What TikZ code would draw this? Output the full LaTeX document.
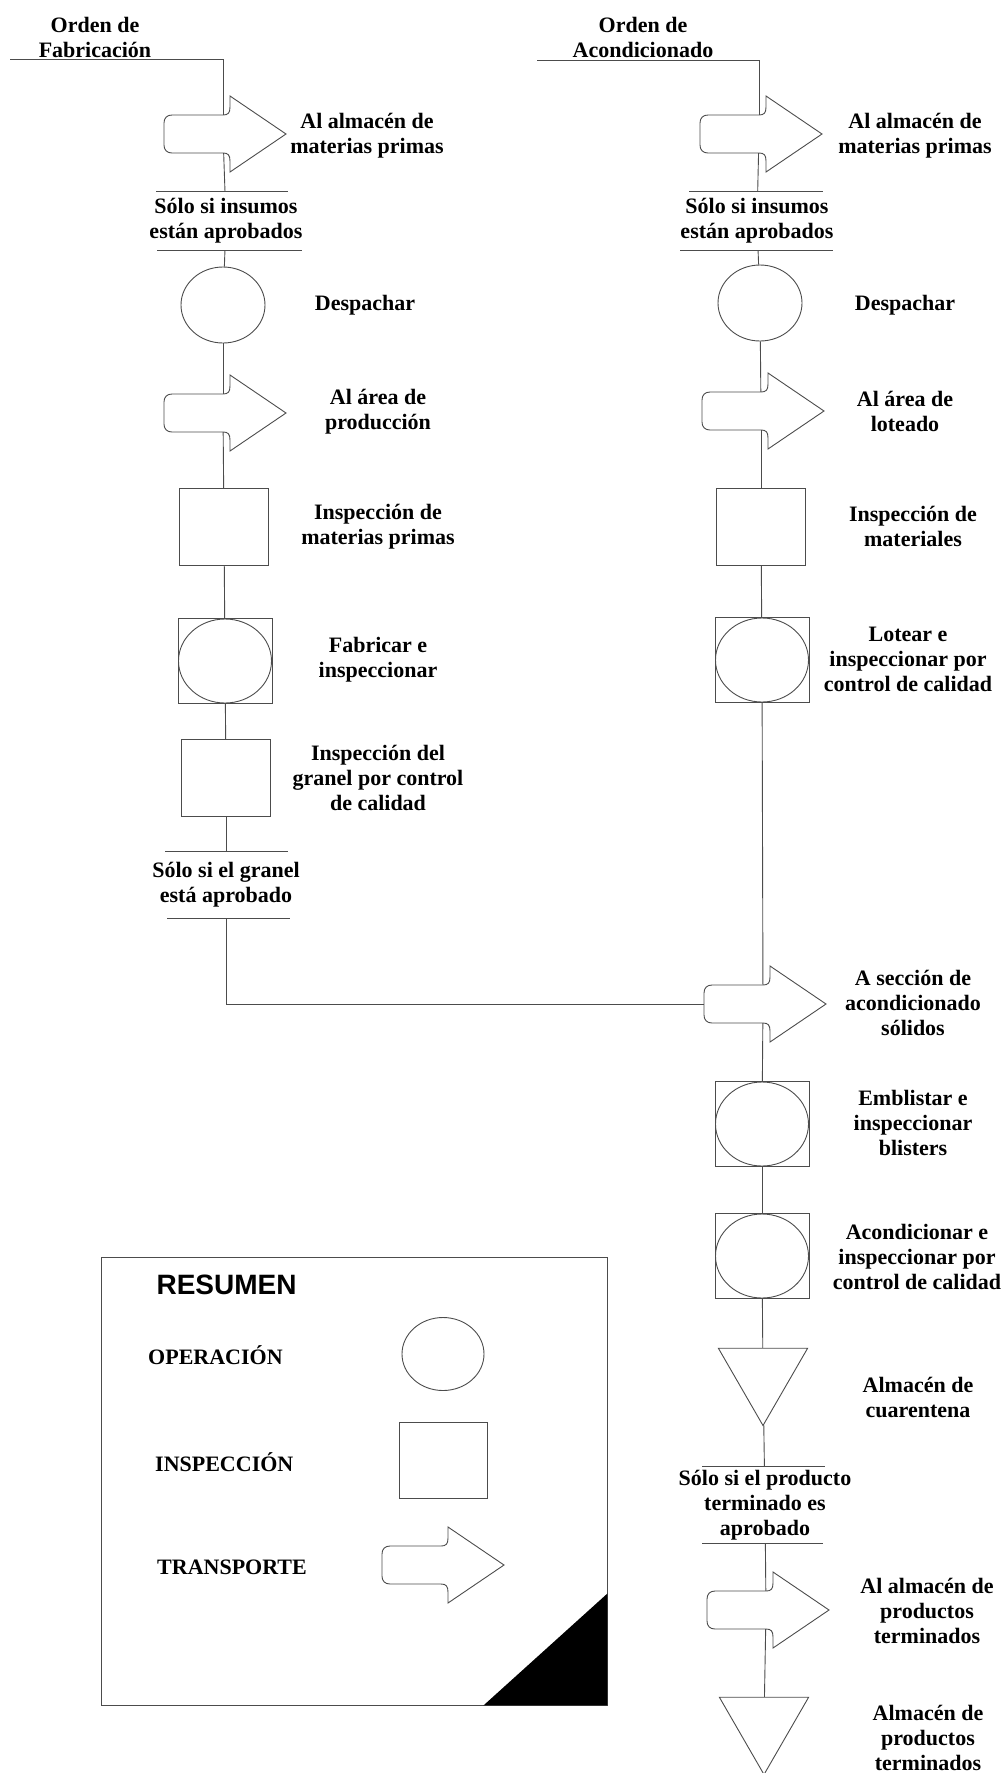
\documentclass[tikz,border=0pt]{standalone}
\usepackage{fontspec}
\setmainfont{Liberation Serif}
\setsansfont{Liberation Sans}
\usetikzlibrary{shapes.geometric}

\tikzset{
  linea/.style={draw=black!70, line width=0.9pt},
  texto/.style={font=\fontsize{22}{25}\selectfont\bfseries, align=center, inner sep=0pt},
  operacion/.style={linea, ellipse, minimum width=84pt, minimum height=76pt, inner sep=0pt},
  inspeccion/.style={linea, rectangle, minimum width=89pt, minimum height=77pt, inner sep=0pt},
  combinada/.style={linea, rectangle, minimum width=94pt, minimum height=85pt, inner sep=0pt,
    path picture={\draw[black!70, line width=0.9pt] (path picture bounding box.center) ellipse [x radius=46.5pt, y radius=42pt];}},
  almacen/.style={linea, regular polygon, regular polygon sides=3, shape border rotate=180, minimum size=103pt, inner sep=0pt},
  cuerpo/.style={rectangle, minimum width=118pt, minimum height=38pt, inner sep=0pt},
}

\newcommand{\transporte}[2]{%
  \node (#1) at (#2) [cuerpo] {};
  \draw[linea, shift={(#1.center)}] (63,0) -- (7,-38) -- (7,-27) .. controls (7,-21) and (5,-19) .. (0,-19)
    -- (-51,-19) .. controls (-56,-19) and (-59,-16) .. (-59,-11)
    -- (-59,11) .. controls (-59,16) and (-56,19) .. (-51,19)
    -- (0,19) .. controls (5,19) and (7,21) .. (7,27) -- (7,38) -- cycle;
}

\begin{document}
\begin{tikzpicture}[x=1pt, y=-1pt]
  \useasboundingbox (0,0) rectangle (1008,1773);

  \node (orden1) at (95,37) [texto] {Orden de\\Fabricación};
  \coordinate (ini1) at (10,59);
  \transporte{t1}{223,134}
  \node (c1) at (226,221) [texto, minimum height=58pt] {Sólo si insumos\\están aprobados};
  \node (op1) at (223,305) [operacion] {};
  \transporte{t2}{223,413}
  \node (in1) at (224,527) [inspeccion] {};
  \node (oi1) at (225,661) [combinada] {};
  \node (in2) at (226,778) [inspeccion] {};
  \node (c2) at (226,885) [texto, minimum height=66pt] {Sólo si el granel\\está aprobado};

  \node (l1) at (367,136) [texto] {Al almacén de\\materias primas};
  \node (l2) at (365,305) [texto] {Despachar};
  \node (l3) at (378,412) [texto] {Al área de\\producción};
  \node (l4) at (378,527) [texto] {Inspección de\\materias primas};
  \node (l5) at (378,660) [texto] {Fabricar e\\inspeccionar};
  \node (l6) at (378,778) [texto] {Inspección del\\granel por control\\de calidad};

  \node (orden2) at (643,37) [texto] {Orden de\\Acondicionado};
  \coordinate (ini2) at (537,60);
  \transporte{t3}{759,134}
  \node (c4) at (757,221) [texto, minimum height=58pt] {Sólo si insumos\\están aprobados};
  \node (op2) at (760,303) [operacion] {};
  \transporte{t4}{761,411}
  \node (in3) at (761,527) [inspeccion] {};
  \node (oi2) at (762,660) [combinada] {};
  \transporte{t5}{763,1004}
  \node (oi3) at (762,1124) [combinada] {};
  \node (oi4) at (762,1256) [combinada] {};
  \node (al1) at (763,1374) [almacen] {};
  \node (c5) at (765,1505) [texto, minimum height=77pt] {Sólo si el producto\\terminado es\\aprobado};
  \transporte{t6}{766,1610}
  \node (al2) at (764,1723) [almacen] {};

  \node (r1) at (915,136) [texto] {Al almacén de\\materias primas};
  \node (r2) at (905,305) [texto] {Despachar};
  \node (r3) at (905,411) [texto] {Al área de\\loteado};
  \node (r4) at (913,526) [texto] {Inspección de\\materiales};
  \node (r5) at (908,659) [texto] {Lotear e\\inspeccionar por\\control de calidad};
  \node (r6) at (913,1003) [texto] {A sección de\\acondicionado\\sólidos};
  \node (r7) at (913,1123) [texto] {Emblistar e\\inspeccionar\\blisters};
  \node (r8) at (917,1257) [texto] {Acondicionar e\\inspeccionar por\\control de calidad};
  \node (r9) at (918,1397) [texto] {Almacén de\\cuarentena};
  \node (r10) at (927,1611) [texto] {Al almacén de\\productos\\terminados};
  \node (r11) at (928,1738) [texto] {Almacén de\\productos\\terminados};

  \draw[linea] (ini1) -| (t1);
  \draw[linea] (t1) to (c1);
  \draw[linea] (c1) to (op1);
  \draw[linea] (op1) to (t2);
  \draw[linea] (t2) to (in1);
  \draw[linea] (in1) to (oi1);
  \draw[linea] (oi1) to (in2);
  \draw[linea] (in2) to (c2);
  \draw[linea] (c2) |- (t5);
  \draw[linea] ([xshift=-70pt]c1.north) -- ([xshift=62pt]c1.north);
  \draw[linea] ([xshift=-69pt]c1.south) -- ([xshift=76pt]c1.south);
  \draw[linea] ([xshift=-61pt]c2.north) -- ([xshift=62pt]c2.north);
  \draw[linea] ([xshift=-59pt]c2.south) -- ([xshift=64pt]c2.south);

  \draw[linea] (ini2) -| (t3);
  \draw[linea] (t3) to (c4);
  \draw[linea] (c4) to (op2);
  \draw[linea] (op2) to (t4);
  \draw[linea] (t4) to (in3);
  \draw[linea] (in3) to (oi2);
  \draw[linea] (oi2) to (t5);
  \draw[linea] (t5) to (oi3);
  \draw[linea] (oi3) to (oi4);
  \draw[linea] (oi4) to (al1);
  \draw[linea] (al1) to (c5);
  \draw[linea] (c5) to (t6);
  \draw[linea] (t6) to (al2);
  \draw[linea] ([xshift=-68pt]c4.north) -- ([xshift=66pt]c4.north);
  \draw[linea] ([xshift=-77pt]c4.south) -- ([xshift=76pt]c4.south);
  \draw[linea] ([xshift=-63pt]c5.north) -- ([xshift=60pt]c5.north);
  \draw[linea] ([xshift=-63pt]c5.south) -- ([xshift=58pt]c5.south);

  \node (resumen) at (354,1481) [linea, rectangle, minimum width=506pt, minimum height=448pt] {};
  \fill[black] (resumen.south east) -- ++(-124,0) -- ++(124,-112) -- cycle;
  \node (titulo) at (153,1285) [anchor=west, font=\sffamily\bfseries\fontsize{28}{30}\selectfont] {RESUMEN};
  \node (lop) at (148,1355) [texto, anchor=west] {OPERACIÓN};
  \node (lin) at (155,1462) [texto, anchor=west] {INSPECCIÓN};
  \node (ltr) at (157,1567) [texto, anchor=west] {TRANSPORTE};
  \node (sop) at (443,1354) [operacion, minimum width=82pt, minimum height=73pt] {};
  \node (sin) at (443,1460) [inspeccion, minimum width=88pt, minimum height=76pt] {};
  \transporte{str}{441,1565}
\end{tikzpicture}
\end{document}
